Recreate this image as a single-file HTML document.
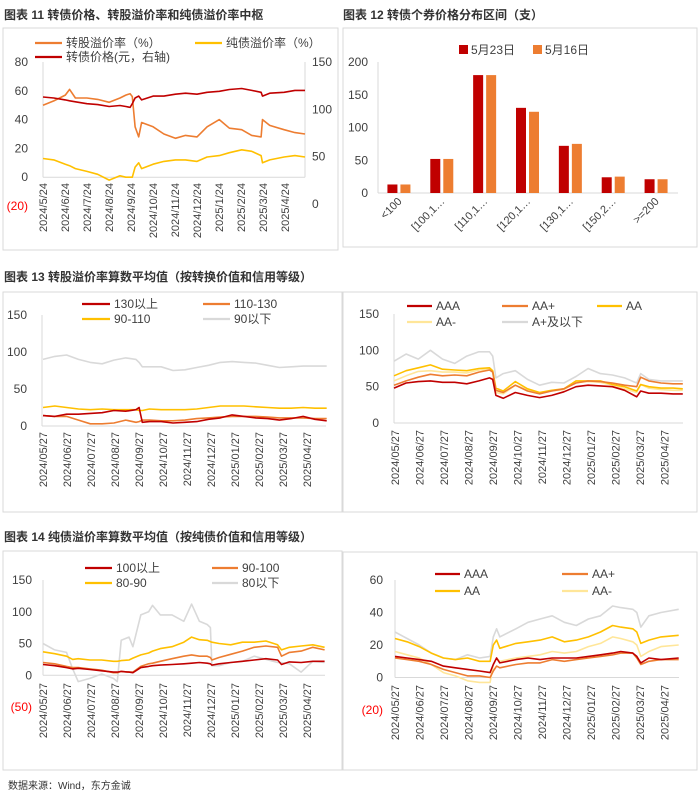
<!DOCTYPE html>
<html><head><meta charset="utf-8">
<style>
body{margin:0;background:#fff;}
svg{display:block;font-family:"Liberation Sans","Noto Sans CJK SC",sans-serif;}
</style></head>
<body>
<svg id="s" width="700" height="799" viewBox="0 0 700 799" xmlns="http://www.w3.org/2000/svg"></svg>
<script>
// ---------- DATA ----------
// Chart 11 (days from 2024/5/24)
const c11Days=[0,15,31,37,45,61,76,92,107,115,121,124,128,133,137,153,168,184,198,214,228,245,259,276,290,303,305,315,335,350,364];
const c11Conv=[50,53,57,61,55,55,54,52,55,57,58,56,35,28,38,35,30,27,29,28,35,40,34,33,29,28,40,36,33,31,30];
const c11Bond=[13,12,9,8,6,4,2,-2,1,0,0,0,7,10,6,9,11,12,12,11,14,15,17,19,18,15,10,12,14,15,14];
const c11Price=[113,112,110,109,108,106,105,103,104,103,102,106,112,114,110,114,114,116,117,116,118,119,121,122,120,118,114,117,118,120,120];
const c11Dates=["2024/5/24","2024/6/24","2024/7/24","2024/8/24","2024/9/24","2024/10/24","2024/11/24","2024/12/24","2025/1/24","2025/2/24","2025/3/24","2025/4/24"];
const c11LeftTicks=[80,60,40,20,0,-20];
const c11RightTicks=[150,100,50,0];
// Chart 12
const c12Cats=["<100","[100,1…","[110,1…","[120,1…","[130,1…","[150,2…",">=200"];
const c12May23=[13,52,180,130,72,24,21];
const c12May16=[13,52,180,124,75,25,21];
const c12Ticks=[200,150,100,50,0];
// Date labels for charts 13/14
const rankDates=["2024/05/27","2024/06/27","2024/07/27","2024/08/27","2024/09/27","2024/10/27","2024/11/27","2024/12/27","2025/01/27","2025/02/27","2025/03/27","2025/04/27"];
// Chart 13 left
const c13LDays=[0,15,30,45,60,75,90,105,118,122,126,135,150,165,180,195,210,225,240,255,270,285,300,315,330,345,360];
const c13L130=[14,13,16,16,17,18,21,20,22,25,5,6,6,4,5,6,9,11,15,13,11,10,8,10,13,9,7];
const c13L110=[14,13,13,8,3,3,4,8,5,6,8,8,7,7,8,10,11,12,13,13,13,12,11,11,11,10,10];
const c13L90=[25,27,25,23,22,23,22,22,22,21,21,23,22,22,22,23,25,27,27,27,26,25,24,24,25,24,24];
const c13LLow=[90,94,96,90,86,84,89,92,90,86,80,80,80,75,76,79,82,86,87,86,85,82,79,80,81,81,81];
const c13Ticks=[150,100,50,0];
// Chart 13 right
const c13RDays=[0,15,30,45,60,75,90,105,118,122,126,135,150,165,180,195,210,225,240,255,270,285,300,305,315,330,345,357];
const c13RAAA=[48,55,57,58,56,56,54,58,62,60,38,34,42,38,35,38,43,50,52,51,50,45,36,44,41,41,40,40];
const c13RAAp=[52,58,63,67,65,66,65,70,73,70,45,42,52,44,40,44,47,55,58,57,55,52,50,63,58,55,54,54];
const c13RAA=[65,72,76,80,74,73,72,75,76,72,48,44,57,47,42,45,47,58,58,58,53,50,44,53,50,48,48,47];
const c13RAAm=[58,65,71,72,70,70,69,73,74,70,42,40,52,46,42,44,46,56,57,56,52,47,42,53,48,46,45,45];
const c13RLow=[85,95,88,100,88,82,92,98,98,92,62,68,72,60,52,56,55,64,75,68,66,62,55,68,60,58,58,58];
// Chart 14 left
const c14LDays=[0,15,30,38,45,60,75,90,95,100,110,115,125,135,140,150,165,180,190,200,210,214,216,225,240,255,270,285,300,305,315,330,345,360];
const c14L100=[17,15,12,10,11,9,7,5,5,6,5,4,12,14,15,16,17,18,19,20,19,18,16,18,20,22,24,26,24,17,21,20,22,22];
const c14L90=[20,18,14,12,12,10,8,4,4,6,5,5,14,18,19,22,26,30,32,30,30,28,24,28,33,38,44,46,44,30,36,38,44,40];
const c14L80=[37,34,30,25,26,24,24,22,22,23,24,27,32,35,38,42,45,52,60,56,55,53,52,50,48,52,52,54,48,40,44,46,48,44];
const c14LLow=[50,40,36,10,-10,-5,2,-5,-10,55,60,45,95,100,110,95,95,85,112,85,80,75,15,15,20,22,30,25,20,20,18,5,22,20];
const c14LTicks=[150,100,50,0,-50];
// Chart 14 right
const c14RDays=[0,15,30,45,60,75,90,105,118,122,126,130,150,165,180,195,210,225,240,255,270,280,295,300,305,315,330,352];
const c14RAAA=[13,12,11,10,7,6,5,4,3,8,12,9,11,12,11,12,12,12,13,14,15,16,15,13,9,12,11,12];
const c14RAAp=[12,11,10,8,5,3,1,1,0,4,7,6,8,9,9,11,10,11,12,13,14,15,15,12,8,10,11,11];
const c14RAA=[24,22,19,15,12,11,12,10,10,20,23,18,21,22,23,25,22,23,25,28,32,31,30,28,21,23,25,26];
const c14RAAm=[16,14,12,8,3,1,-2,-3,-3,8,12,10,12,13,14,16,15,16,19,21,25,24,22,20,13,16,19,20];
const c14RLow=[28,24,20,15,12,11,14,12,13,25,30,25,30,34,36,38,34,32,36,38,44,43,42,40,31,38,40,42];
const c14RTicks=[60,40,20,0,-20];

// ---------- DRAWING ----------
const NS="http://www.w3.org/2000/svg";
const svg=document.getElementById('s');
const RED="#C00000",ORG="#ED7D31",YEL="#FFC000",LYEL="#FFE699",GRY="#D9D9D9",TXT="#404040";
function mk(tag,attrs,parent){const e=document.createElementNS(NS,tag);for(const k in attrs)e.setAttribute(k,attrs[k]);(parent||svg).appendChild(e);return e;}
function txt(str,attrs,parent){const e=mk('text',attrs,parent);e.textContent=str;return e;}

function panel(x,y,w,h,title,tx,ty,name){
  const g=mk('g',{});
  
  
  if(title){const t=txt(title,{x:tx,y:ty,'font-size':12,'font-weight':'bold',fill:'#333'},g);
    
    }
  const r=mk('rect',{x:x,y:y,width:w,height:h,fill:'none',stroke:GRY,'stroke-width':1},g);
  
  
  return g;
}
function yScale(vmax,vmin,ptop,pbot){return v=>ptop+(vmax-v)*(pbot-ptop)/(vmax-vmin);}
function yTicks(g,ticks,sc,x,anchor,negRed){
  ticks.forEach(v=>{
    const neg=v<0;
    const t=txt(neg?'('+(-v)+')':String(v),{x:x,y:sc(v)+4,'font-size':12,fill:(neg&&negRed)?'#FF0000':TXT,'text-anchor':anchor},g);
    
    
  });
}
function dateLabels(g,labels,x0,step,y){
  labels.forEach((d,i)=>{
    const x=x0+i*step;
    const t=txt(d,{x:0,y:0,'font-size':11,fill:TXT,'text-anchor':'end',transform:`translate(${x+4},${y}) rotate(-90)`},g);
    
    
  });
}
function series(g,days,vals,xs,ys,color,name,w){
  const d=days.map((dd,i)=>(i?'L':'M')+xs(dd).toFixed(1)+' '+ys(vals[i]).toFixed(1)).join(' ');
  const p=mk('path',{d:d,fill:'none',stroke:color,'stroke-width':w||1.6,'stroke-linejoin':'round'},g);
  
  
}
function legendLine(g,x1,x2,y,color,label){
  const l=mk('line',{x1:x1,x2:x2,y1:y,y2:y,stroke:color,'stroke-width':2.2},g);
  
  
  const t=txt(label,{x:x2+4,y:y+4,'font-size':12,fill:TXT},g);
  
  
}
function axes(g,x0,x1,ytop,ybase,right){
  const a=mk('line',{x1:x0,x2:x0,y1:ytop,y2:ybase,stroke:GRY},g);
  
  
  const b=mk('line',{x1:x0,x2:x1,y1:ybase,y2:ybase,stroke:GRY},g);
  
  
  if(right){const c=mk('line',{x1:x1,x2:x1,y1:ytop,y2:ybase,stroke:GRY},g);
    
    }
}

// ---- Chart 11 ----
(function(){
  const g=panel(3,28,335,222,'图表 11  转债价格、转股溢价率和纯债溢价率中枢',4,19,'chart-11');
  const xs=d=>43+d*262/364;
  const yl=yScale(80,-20,62,206), yr=yScale(150,0,62,204);
  axes(g,43,305,62,yl(0),true);
  yTicks(g,c11LeftTicks,yl,28,'end',true);
  yTicks(g,c11RightTicks,yr,312,'start',false);
  dateLabels(g,c11Dates,43,22,183);
  series(g,c11Days,c11Bond,xs,yl,YEL,'series-bond-premium');
  series(g,c11Days,c11Conv,xs,yl,ORG,'series-conversion-premium');
  series(g,c11Days,c11Price,xs,yr,RED,'series-cb-price');
  legendLine(g,35,62,43,ORG,'转股溢价率（%）');
  legendLine(g,195,222,43,YEL,'纯债溢价率（%）');
  legendLine(g,35,62,57,RED,'转债价格(元，右轴)');
})();

// ---- Chart 12 ----
(function(){
  const g=panel(343,28,354,219,'图表 12  转债个券价格分布区间（支）',343,19,'chart-12');
  const ys=yScale(200,0,62,193);
  const x0=378,x1=678,cw=(x1-x0)/c12Cats.length;
  axes(g,x0,x1,62,193,false);
  yTicks(g,c12Ticks,ys,368,'end',false);
  c12Cats.forEach((c,i)=>{
    const cx=x0+cw*(i+0.5);
    const b1=mk('rect',{x:cx-12,y:ys(c12May23[i]),width:10,height:193-ys(c12May23[i]),fill:RED},g);
    
    
    const b2=mk('rect',{x:cx+1,y:ys(c12May16[i]),width:10,height:193-ys(c12May16[i]),fill:ORG},g);
    
    
    const t=txt(c,{x:0,y:0,'font-size':11,fill:TXT,'text-anchor':'end',transform:`translate(${cx+3},${202}) rotate(-45)`},g);
    
    
  });
  const s1=mk('rect',{x:459,y:45,width:9,height:9,fill:RED},g);
  
  
  const l1=txt('5月23日',{x:471,y:54,'font-size':12,fill:TXT},g);
  
  
  const s2=mk('rect',{x:533,y:45,width:9,height:9,fill:ORG},g);
  
  
  const l2=txt('5月16日',{x:545,y:54,'font-size':12,fill:TXT},g);
  
  
})();

// ---- Chart 13 left ----
(function(){
  const g=panel(3,292,339,220,'图表 13  转股溢价率算数平均值（按转换价值和信用等级）',4,281,'chart-13-left');
  const xs=d=>43+d*264/335;
  const ys=yScale(150,0,315,426);
  axes(g,42,326,315,426,false);
  yTicks(g,c13Ticks,ys,27,'end',false);
  dateLabels(g,rankDates,43,24,432);
  series(g,c13LDays,c13LLow,xs,ys,GRY,'series-below-90');
  series(g,c13LDays,c13L90,xs,ys,YEL,'series-90-110');
  series(g,c13LDays,c13L110,xs,ys,ORG,'series-110-130');
  series(g,c13LDays,c13L130,xs,ys,RED,'series-above-130');
  legendLine(g,82,110,304,RED,'130以上');
  legendLine(g,203,230,304,ORG,'110-130');
  legendLine(g,82,110,319,YEL,'90-110');
  legendLine(g,203,230,319,GRY,'90以下');
})();

// ---- Chart 13 right ----
(function(){
  const g=panel(343,292,354,220,'',0,0,'chart-13-right');
  const xs=d=>394+d*271/335;
  const ys=yScale(150,0,314,423);
  axes(g,394,683,314,423,false);
  yTicks(g,c13Ticks,ys,379,'end',false);
  dateLabels(g,rankDates,395,24.5,430);
  series(g,c13RDays,c13RLow,xs,ys,GRY,'series-a-plus-below');
  series(g,c13RDays,c13RAAm,xs,ys,LYEL,'series-aa-minus');
  series(g,c13RDays,c13RAA,xs,ys,YEL,'series-aa');
  series(g,c13RDays,c13RAAp,xs,ys,ORG,'series-aa-plus');
  series(g,c13RDays,c13RAAA,xs,ys,RED,'series-aaa');
  legendLine(g,407,432,306,RED,'AAA');
  legendLine(g,502,528,306,ORG,'AA+');
  legendLine(g,597,622,306,YEL,'AA');
  legendLine(g,407,432,322,LYEL,'AA-');
  legendLine(g,502,528,322,GRY,'A+及以下');
})();

// ---- Chart 14 left ----
(function(){
  const g=panel(3,551,339,219,'图表 14  纯债溢价率算数平均值（按纯债价值和信用等级）',4,541,'chart-14-left');
  const xs=d=>43+d*262/335;
  const ys=yScale(150,-50,580,707);
  axes(g,43,325,580,ys(0),false);
  yTicks(g,c14LTicks,ys,32,'end',true);
  dateLabels(g,rankDates,43,24,683);
  series(g,c14LDays,c14LLow,xs,ys,GRY,'series-below-80');
  series(g,c14LDays,c14L80,xs,ys,YEL,'series-80-90');
  series(g,c14LDays,c14L90,xs,ys,ORG,'series-90-100');
  series(g,c14LDays,c14L100,xs,ys,RED,'series-above-100');
  legendLine(g,85,112,568,RED,'100以上');
  legendLine(g,212,238,568,ORG,'90-100');
  legendLine(g,85,112,583,YEL,'80-90');
  legendLine(g,212,238,583,GRY,'80以下');
})();

// ---- Chart 14 right ----
(function(){
  const g=panel(343,552,354,218,'',0,0,'chart-14-right');
  const xs=d=>395+d*270/335;
  const ys=yScale(60,-20,580,710);
  axes(g,395,679,580,ys(0),false);
  yTicks(g,c14RTicks,ys,383,'end',true);
  dateLabels(g,rankDates,395,24.5,685);
  series(g,c14RDays,c14RLow,xs,ys,GRY,'series-a-plus-below');
  series(g,c14RDays,c14RAAm,xs,ys,LYEL,'series-aa-minus');
  series(g,c14RDays,c14RAA,xs,ys,YEL,'series-aa');
  series(g,c14RDays,c14RAAp,xs,ys,ORG,'series-aa-plus');
  series(g,c14RDays,c14RAAA,xs,ys,RED,'series-aaa');
  legendLine(g,435,460,574,RED,'AAA');
  legendLine(g,562,588,574,ORG,'AA+');
  legendLine(g,435,460,591,YEL,'AA');
  legendLine(g,562,588,591,LYEL,'AA-');
})();

// footer
const f=txt('数据来源：Wind，东方金诚',{x:8,y:789,'font-size':10,fill:'#333'});


</script>
</body></html>
